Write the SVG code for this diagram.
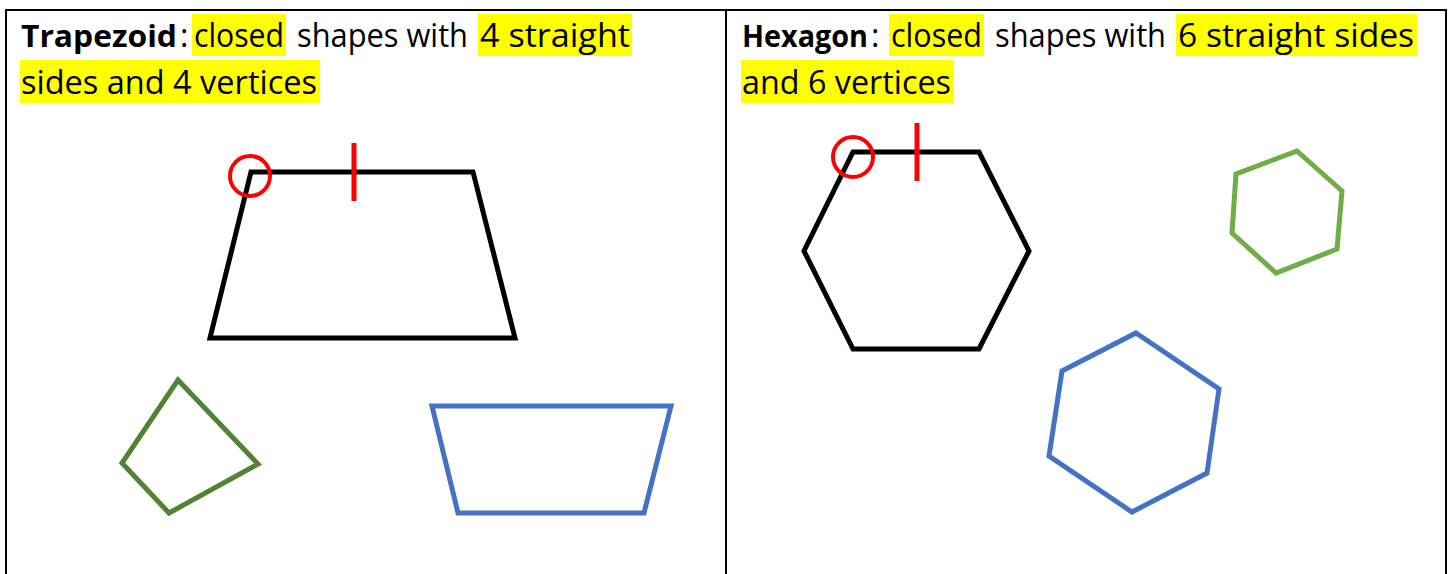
<svg xmlns="http://www.w3.org/2000/svg" width="1451" height="574" viewBox="0 0 1451 574">
<style>
.t{font-family:"Open Sans","Liberation Sans",sans-serif;font-size:32px;fill:#000}
.b{font-weight:bold;font-size:30px}
.hl{fill:#ffff00}
.grid{stroke:#000;stroke-width:2;fill:none}
.shape{fill:none;stroke-width:5;stroke-linejoin:miter}
.red{fill:none;stroke:#ff0000;stroke-width:4}
</style>
<rect width="1451" height="574" fill="#fff"/>
<g id="table">
<line class="grid" x1="5" y1="10" x2="1447" y2="10"/>
<line class="grid" x1="6" y1="9" x2="6" y2="574"/>
<line class="grid" x1="726" y1="9" x2="726" y2="574"/>
<line class="grid" x1="1446" y1="9" x2="1446" y2="574"/>
</g>
<g id="highlights">
<rect class="hl" x="192" y="14" width="94" height="42"/>
<rect class="hl" x="478" y="14" width="154" height="42"/>
<rect class="hl" x="20" y="60" width="300" height="43"/>
<rect class="hl" x="889" y="14" width="95" height="42"/>
<rect class="hl" x="1176" y="14" width="241" height="42"/>
<rect class="hl" x="741" y="60" width="213" height="43"/>
</g>
<g id="left-text">
<text class="t" x="21" y="47"><tspan class="b" textLength="156" lengthAdjust="spacingAndGlyphs">Trapezoid</tspan><tspan x="180">:</tspan></text>
<text class="t" x="194" y="47" textLength="90" lengthAdjust="spacingAndGlyphs">closed</text>
<text class="t" x="297" y="47" textLength="171" lengthAdjust="spacingAndGlyphs">shapes with</text>
<text class="t" x="480" y="47" textLength="150" lengthAdjust="spacingAndGlyphs">4 straight</text>
<text class="t" x="21" y="94" textLength="296" lengthAdjust="spacingAndGlyphs">sides and 4 vertices</text>
</g>
<g id="right-text">
<text class="t" x="742" y="47"><tspan class="b" textLength="126" lengthAdjust="spacingAndGlyphs">Hexagon</tspan><tspan x="871">:</tspan></text>
<text class="t" x="891" y="47" textLength="91" lengthAdjust="spacingAndGlyphs">closed</text>
<text class="t" x="995" y="47" textLength="171" lengthAdjust="spacingAndGlyphs">shapes with</text>
<text class="t" x="1178" y="47" textLength="236" lengthAdjust="spacingAndGlyphs">6 straight sides</text>
<text class="t" x="742" y="94" textLength="209" lengthAdjust="spacingAndGlyphs">and 6 vertices</text>
</g>
<g id="trapezoid-main">
<polygon class="shape" stroke="#000" points="251,172 473,172 515,338 210,338"/>
<circle class="red" cx="250" cy="176" r="20"/>
<line x1="354" y1="143" x2="354" y2="201" stroke="#ff0000" stroke-width="5"/>
</g>
<g id="quad-green">
<polygon class="shape" stroke="#548235" stroke-width="4" points="178,380 258,464 169,513 122,463"/>
</g>
<g id="trapezoid-blue">
<polygon class="shape" stroke="#4472c4" points="432,406 671,406 644,513 458,513"/>
</g>
<g id="hexagon-main">
<polygon class="shape" stroke="#000" points="853,152 979,152 1029,251 979,349 853,349 804,251"/>
<circle class="red" cx="853" cy="157" r="20"/>
<line x1="917" y1="123" x2="917" y2="181" stroke="#ff0000" stroke-width="5"/>
</g>
<g id="hexagon-green">
<polygon class="shape" stroke="#70ad47" points="1297,151 1342,191 1337,249 1276,273 1232,233 1236,174"/>
</g>
<g id="hexagon-blue">
<polygon class="shape" stroke="#4472c4" points="1136,333 1219,389 1207,473 1132,512 1049,456 1062,371"/>
</g>
</svg>
